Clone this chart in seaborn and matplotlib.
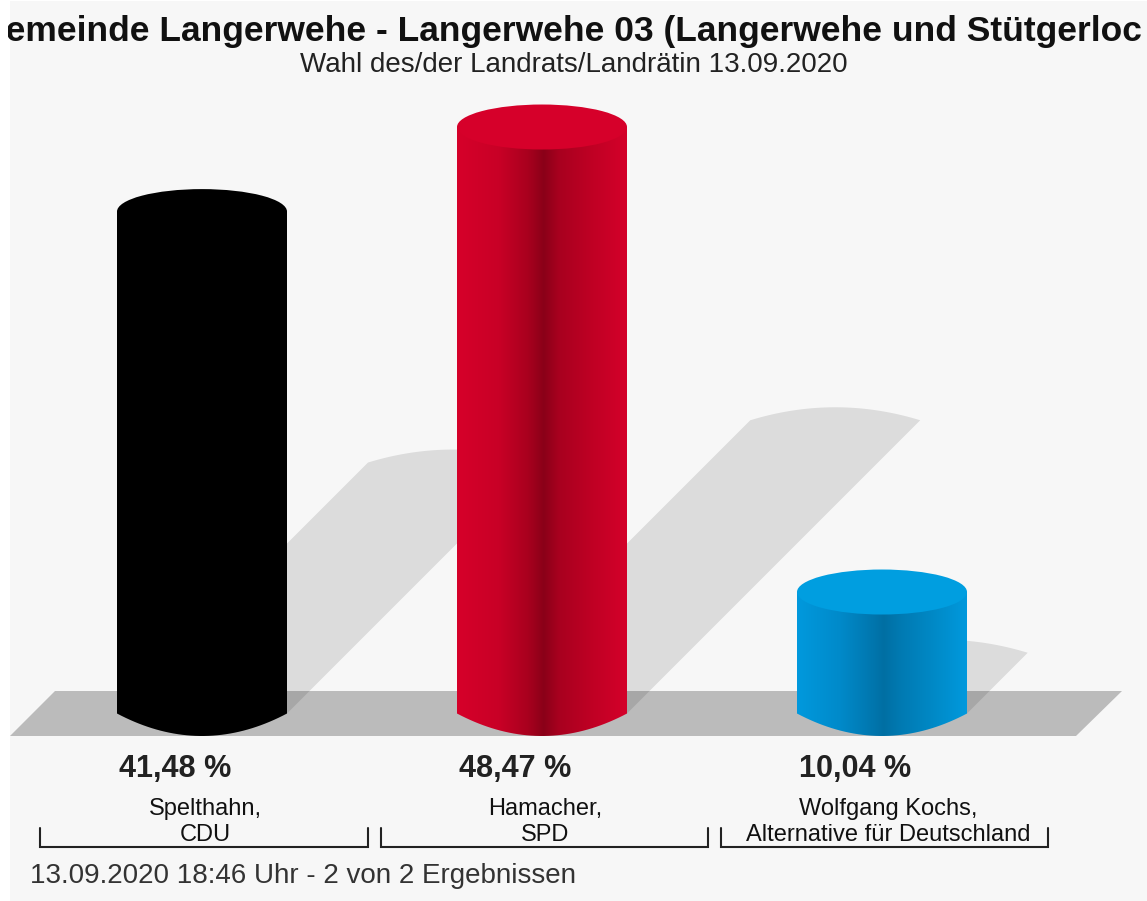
import numpy as np
import pandas as pd
import seaborn as sns
import matplotlib
matplotlib.use('Agg')
import matplotlib.pyplot as plt
from matplotlib.colors import LinearSegmentedColormap
from matplotlib.patches import Ellipse, PathPatch, Polygon, Rectangle
from matplotlib.path import Path

# values
kandidaten = ['Spelthahn,\nCDU', 'Hamacher,\nSPD', 'Wolfgang Kochs,\nAlternative für Deutschland']
prozent = [41.48, 48.47, 10.04]
prozent_text = ['41,48 %', '48,47 %', '10,04 %']
deckel_farben = ['#000000', '#d6002a', '#009ee0']
verlauf_pos = [0, 0.25, 0.42, 0.51, 0.6, 0.8, 1]
seite_farben = [
    ['#000000'] * 7,
    ['#d6002a', '#c80026', '#a8001e', '#8a0018', '#a8001f', '#c00024', '#d4002a'],
    ['#0099dd', '#008aca', '#0079b2', '#006fa3', '#0079b1', '#0089c6', '#0099dd'],
]
titel = 'Gemeinde Langerwehe - Langerwehe 03 (Langerwehe und Stütgerloch)'
untertitel = 'Wahl des/der Landrats/Landrätin 13.09.2020'
fussnote = '13.09.2020 18:46 Uhr - 2 von 2 Ergebnissen'

sns.set_theme(style='white')
plt.rcParams['font.family'] = ['Liberation Sans', 'DejaVu Sans']

# achsen auf pixel des bildes abgestimmt
W, H = 1147, 901
PX_X = 340.0      # pixel je kategorie
PX_Y = 12.1       # pixel je prozent
BASE = 713.5
def X(px):
    return (px - 202) / PX_X
def Y(py):
    return (BASE - py) / PX_Y

fig = plt.figure(figsize=(W / 100, H / 100), dpi=100, facecolor='white')
ax = fig.add_axes([0, 0, 1, 1])

df = pd.DataFrame({'kandidat': kandidaten, 'prozent': prozent})
sns.barplot(data=df, x='kandidat', y='prozent', hue='kandidat', palette=deckel_farben,
            width=0.5, saturation=1, legend=False, ax=ax, zorder=3)

# hintergrund und boden
ax.add_patch(Rectangle((X(10), Y(1)), X(W) - X(10), Y(H) - Y(1), fc='#f7f7f7', ec='none', zorder=0))
ax.add_patch(Polygon([(X(10), Y(736)), (X(55), Y(691)), (X(1122), Y(691)), (X(1076), Y(736))],
                     closed=True, fc='#bbbbbb', ec='none', zorder=1))

ell_h = 45 / PX_Y
for i, bar in enumerate(ax.patches[:3]):
    x0, b = bar.get_x(), bar.get_width()
    h = bar.get_height()
    bar.set_visible(False)

    # schatten
    dx = h * PX_Y * 0.5 / PX_X
    dy = h * 0.5
    t = np.linspace(-1, 1, 40)
    arc_x = x0 + dx + b / 2 + b / 2 * t
    arc_y = dy + 13 / PX_Y * (1 - t ** 2)
    pts = [(x0, 0)] + list(zip(arc_x, arc_y)) + [(x0 + b, 0)]
    ax.add_patch(Polygon(pts, closed=True, fc='black', alpha=0.105, ec='none', zorder=2))

    # koerper mit verlauf, unterkante flacher bogen
    low_x = x0 + b / 2 + b / 2 * t
    low_y = -ell_h / 2 * (1 - t ** 2)
    verts = [(x0, h)] + list(zip(low_x, low_y)) + [(x0 + b, h), (x0, h)]
    body = Path(verts)
    cm = LinearSegmentedColormap.from_list('c', list(zip(verlauf_pos, seite_farben[i])))
    img = ax.imshow(np.linspace(0, 1, 256)[None, :], cmap=cm, aspect='auto', zorder=3,
                    extent=[x0, x0 + b, -ell_h / 2, h], interpolation='bilinear')
    clip = PathPatch(body, transform=ax.transData, fc='none', ec='none')
    ax.add_patch(clip)
    img.set_clip_path(clip)

    # deckel
    ax.add_patch(Ellipse((x0 + b / 2, h), b, ell_h, fc=deckel_farben[i], ec='none', zorder=4))

    # beschriftung
    ax.text(X(175 + 340 * i), Y(769), prozent_text[i], ha='center', va='center',
            fontsize=22, fontweight='bold', color='#222222')
    ax.text(X(205 + 340 * i + (3 if i == 2 else 0)), Y(822), kandidaten[i], ha='center', va='center',
            fontsize=17, color='#111111', linespacing=1.28)
    links, rechts = X(40 + 340.5 * i), X(368 + 340 * i)
    ax.plot([links, links, rechts, rechts],
            [Y(828), Y(847), Y(847), Y(828)], color='#222222', lw=1.5, zorder=5,
            solid_joinstyle='miter')

# titel ist im original links und rechts abgeschnitten
kopf = ax.text(X(576.5), Y(31), titel, ha='center', va='center', fontsize=25.5,
               fontweight='bold', color='#111111')
kopf.set_clip_on(True)
kopf.set_clip_path(Rectangle((X(8), Y(0)), X(1143) - X(8), Y(60) - Y(0), transform=ax.transData))
ax.text(X(574), Y(65), untertitel, ha='center', va='center', fontsize=20, color='#222222')
ax.text(X(30), Y(876), fussnote, ha='left', va='center', fontsize=20, color='#333333')

ax.set_xlim(X(0), X(W))
ax.set_ylim(Y(H), Y(0))
ax.axis('off')

fig.savefig('out.png', dpi=100, facecolor=fig.get_facecolor())
